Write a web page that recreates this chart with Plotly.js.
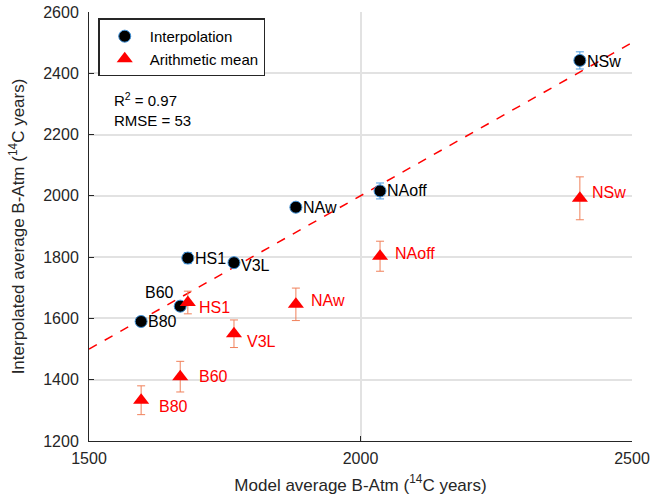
<!DOCTYPE html>
<html><head><meta charset="utf-8">
<script src="https://cdn.plot.ly/plotly-3.0.1.min.js"></script>
<style>html,body{margin:0;padding:0;background:#fff}#c{width:654px;height:504px}</style>
</head><body><div id="c"></div>
<script>
const sites = ["B80","B60","HS1","V3L","NAw","NAoff","NSw"];
const modelAvg = [1596,1668,1682,1767,1881,2036,2404];
const interpAvg = [1590,1640,1797,1782,1963,2016,2442];
const interpErr = [12,14,18,14,14,26,28];
const meanAvg = [1333,1410,1652,1550,1646,1803,1992];
const meanErr = [47,50,37,45,53,49,70];
const fitX = [1500,2500];
const fitY = [1500,2500];
const stats = ["R<sup>2</sup> = 0.97","RMSE = 53"];

const F = "Liberation Sans, Arial, sans-serif";
const traces = [
 {x: fitX, y: fitY, mode:"lines", line:{color:"#ff0000", dash:"dash", width:1.5}, showlegend:false, hoverinfo:"skip"},
 {x: modelAvg, y: interpAvg, mode:"markers", name:"Interpolation",
  marker:{symbol:"circle", size:12, color:"#000", line:{color:"#3d8fd6", width:1}},
  error_y:{type:"data", array:interpErr, color:"#4a9be0", thickness:1, width:4}},
 {x: modelAvg, y: meanAvg, mode:"markers", name:"Arithmetic mean",
  marker:{symbol:"triangle-up", size:14, color:"#ff0000"},
  error_y:{type:"data", array:meanErr, color:"#f0805a", thickness:1, width:4}}
];

const redShiftX = {B80:16, B60:17, HS1:9, V3L:11, NAw:13, NAoff:13, NSw:10};
const redShiftY = {B80:-6, B60:0, HS1:-5, V3L:-8, NAw:4, NAoff:3, NSw:6};
const ann = [];
sites.forEach((s,i)=>{
  const above = s==="B60";
  ann.push({x:modelAvg[i], y:interpAvg[i], text:s, showarrow:false, xref:"x", yref:"y",
    xanchor: above?"right":"left", yanchor:"middle",
    xshift: above? -4 : 5, yshift: above? 14 : (s==="V3L"?-3:(s==="NSw"?-1:0)),
    font:{family:F, size:16, color:"#000"}});
  ann.push({x:modelAvg[i], y:meanAvg[i], text:s, showarrow:false, xref:"x", yref:"y",
    xanchor:"left", yanchor:"middle", xshift: redShiftX[s], yshift: redShiftY[s],
    font:{family:F, size:16, color:"#ff0000"}});
});
stats.forEach((t,i)=>{
  ann.push({xref:"paper", yref:"paper", x:0.042, y:0.795-i*0.048, xanchor:"left", yanchor:"middle",
    text:t, showarrow:false, font:{family:F, size:15, color:"#000"}});
});

const layout = {
  width:654, height:504,
  margin:{l:89, r:22, t:12, b:63},
  paper_bgcolor:"#fff", plot_bgcolor:"#fff",
  font:{family:F, size:16, color:"#262626"},
  xaxis:{range:[1500,2500], tickvals:[1500,2000,2500], ticks:"inside", ticklen:5, tickcolor:"#262626",
    showline:true, linecolor:"#262626", linewidth:1, showgrid:true, gridcolor:"#e2e2e2", gridwidth:2,
    zeroline:false, ticklabelstandoff:3,
    title:{text:"Model average B-Atm (<sup>14</sup>C years)", font:{family:F, size:17, color:"#262626"}, standoff:12}},
  yaxis:{range:[1200,2600], dtick:200, ticks:"inside", ticklen:5, tickcolor:"#262626",
    showline:true, linecolor:"#262626", linewidth:1, showgrid:true, gridcolor:"#e2e2e2", gridwidth:2,
    zeroline:false, ticklabelstandoff:6,
    title:{text:"Interpolated average B-Atm (<sup>14</sup>C years)", font:{family:F, size:17, color:"#262626"}, standoff:14}},
  legend:{x:0.017, y:0.985, xanchor:"left", yanchor:"top", bgcolor:"#fff", bordercolor:"#262626", borderwidth:1.5,
    font:{family:F, size:15, color:"#000"}, tracegroupgap:0, itemwidth:40},
  annotations: ann,
  showlegend:true
};
Plotly.newPlot("c", traces, layout, {displayModeBar:false, staticPlot:true});
</script></body></html>
